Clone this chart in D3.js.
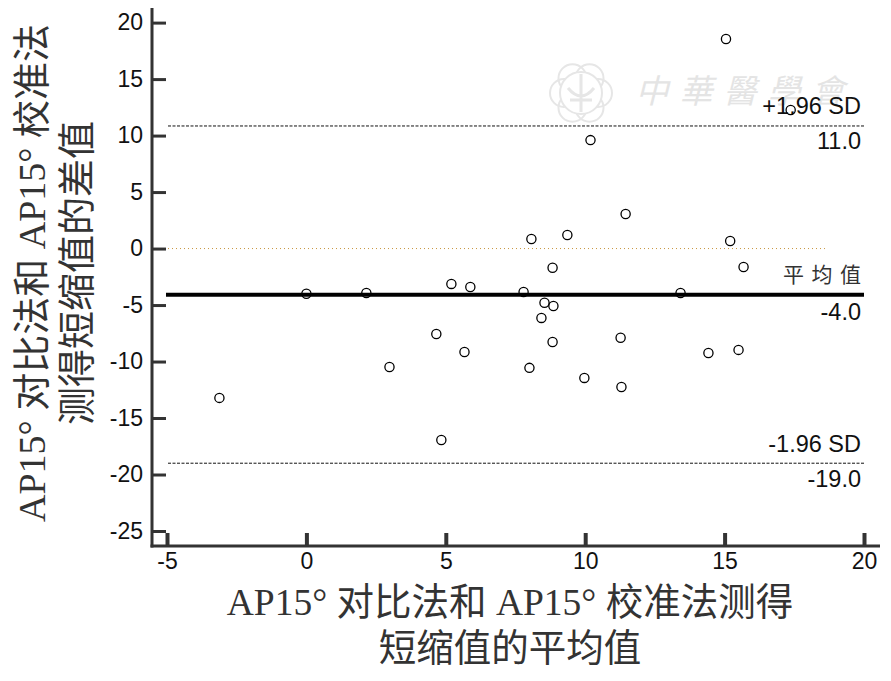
<!DOCTYPE html>
<html>
<head>
<meta charset="utf-8">
<script src="https://cdnjs.cloudflare.com/ajax/libs/d3/7.8.5/d3.min.js"></script>
<style>
  html, body { margin: 0; padding: 0; background: #fff; }
  text { font-family: "Liberation Sans", Arial, sans-serif; }
  .title { font-family: "Liberation Serif", "Noto Sans CJK SC", serif; fill: #333; text-anchor: middle; }
</style>
</head>
<body>
<div id="chart"></div>
<script>
var svgWidth = 891;
var svgHeight = 681;

// values
var xTicks = [-5, 0, 5, 10, 15, 20];
var yTicks = [20, 15, 10, 5, 0, -5, -10, -15, -20, -25];
var pointX = [15.05, 17.37, 10.19, 11.45, 8.07, 9.36, 15.2, 15.68, 8.83, 5.2, 5.88, 7.79, 13.42, 0, 2.15,
  8.54, 8.86, 8.43, 4.66, 11.27, 8.83, 5.67, 14.42, 15.5, 2.98, 8.0, 9.97, 11.3, -3.12, 4.84];
var pointY = [18.55, 12.27, 9.6, 3.06, 0.85, 1.2, 0.67, -1.63, -1.7, -3.13, -3.4, -3.84, -3.93, -4.0, -3.93,
  -4.8, -5.08, -6.14, -7.56, -7.9, -8.27, -9.15, -9.24, -8.97, -10.48, -10.56, -11.45, -12.25, -13.22, -16.94];
var upperLimit = 10.85;
var meanValue = -4.08;
var lowerLimit = -19.0;
var zeroEnd = 18.6;
var xLabels = ["AP15° 对比法和 AP15° 校准法测得", "短缩值的平均值"];
var yLabels = ["AP15° 对比法和 AP15° 校准法", "测得短缩值的差值"];
var watermark = ["中", "華", "醫", "學", "會"];
var petals = [0, 60, 120, 180, 240, 300];

var svg = d3.select("#chart")
  .append("svg")
  .attr("width", svgWidth)
  .attr("height", svgHeight)
  .style("display", "block");

var xScale = d3.scaleLinear().domain([-5, 20]).range([167, 864]);
var yScale = d3.scaleLinear().domain([20, -25]).range([22.6, 531]);

// faint watermark behind the plot
var mark = svg.append("g").attr("fill", "none").attr("stroke", "#e6e6e6");
mark.selectAll(".petal")
  .data(petals)
  .enter()
  .append("circle")
  .attr("cx", d => 581 + 17 * Math.cos(d * Math.PI / 180))
  .attr("cy", d => 93 + 17 * Math.sin(d * Math.PI / 180))
  .attr("r", 14)
  .attr("stroke-width", 2);
mark.append("circle").attr("cx", 581).attr("cy", 93).attr("r", 21).attr("fill", "#fff").attr("stroke-width", 2);
mark.append("path").attr("d", "M581 74V112M568 88Q581 104 594 88M570 100L592 100").attr("stroke-width", 3);
svg.append("g").selectAll("text")
  .data(watermark)
  .enter()
  .append("text")
  .attr("x", (d, i) => 652 + i * 44)
  .attr("y", 103)
  .attr("text-anchor", "middle")
  .attr("fill", "#e4e4e4")
  .style("font-family", "'Noto Sans CJK SC'")
  .style("font-size", "33px")
  .style("font-style", "italic")
  .text(d => d);

// line annotations
function note(label, y) {
  svg.append("text")
    .attr("x", 861)
    .attr("y", y)
    .attr("text-anchor", "end")
    .attr("fill", "#111")
    .style("font-size", "23.5px")
    .text(label);
}
note("+1.96 SD", 114);
note("11.0", 149);
note("-4.0", 320);
note("-1.96 SD", 452);
note("-19.0", 487);
svg.append("text")
  .attr("x", 861)
  .attr("y", 282)
  .attr("text-anchor", "end")
  .attr("fill", "#333")
  .attr("textLength", 78)
  .style("font-family", "'Noto Sans CJK SC'")
  .style("font-size", "21px")
  .text("平均值");

// reference lines
function refLine(value, x1, dash, color, width) {
  svg.append("line")
    .attr("x1", x1)
    .attr("x2", xScale(20))
    .attr("y1", yScale(value))
    .attr("y2", yScale(value))
    .attr("stroke", color)
    .attr("stroke-width", width)
    .attr("stroke-dasharray", dash);
}
refLine(upperLimit, 168, "3,1.5", "#111", 1);
refLine(lowerLimit, 168, "3,1.5", "#111", 1);
refLine(meanValue, 166, null, "#000", 4);

svg.append("line")
  .attr("x1", 168)
  .attr("x2", xScale(zeroEnd))
  .attr("y1", yScale(0))
  .attr("y2", yScale(0))
  .attr("stroke", "#c8963c")
  .attr("stroke-width", 1)
  .attr("stroke-dasharray", "1,3");

// points
svg.append("g").selectAll("circle")
  .data(pointX)
  .enter()
  .append("circle")
  .attr("cx", d => xScale(d))
  .attr("cy", (d, i) => yScale(pointY[i]))
  .attr("r", 4.6)
  .attr("fill", "none")
  .attr("stroke", "#000")
  .attr("stroke-width", 1.3);

// axes, ticks point inward
var axisColor = "#333";
var bottomAxis = d3.axisBottom(xScale).tickValues(xTicks).tickFormat(d => String(d)).tickSize(0).tickPadding(7);
var leftAxis = d3.axisLeft(yScale).tickValues(yTicks).tickFormat(d => String(d)).tickSize(0).tickPadding(9);

var xAxisG = svg.append("g").attr("transform", "translate(0, 546)").call(bottomAxis);
var yAxisG = svg.append("g").attr("transform", "translate(152, 0)").call(leftAxis);

xAxisG.select(".domain").remove();
yAxisG.select(".domain").remove();
xAxisG.selectAll(".tick line")
  .attr("y1", 0).attr("y2", -13)
  .attr("stroke", axisColor).attr("stroke-width", 4);
yAxisG.selectAll(".tick line")
  .attr("x1", 0).attr("x2", 14)
  .attr("stroke", axisColor).attr("stroke-width", 3);
svg.selectAll(".tick text")
  .attr("fill", "#111")
  .style("font-family", "'Liberation Sans', Arial, sans-serif")
  .style("font-size", "23px");

svg.append("line").attr("x1", 152).attr("x2", 152).attr("y1", 8).attr("y2", 547.5)
  .attr("stroke", axisColor).attr("stroke-width", 3);
svg.append("line").attr("x1", 150.5).attr("x2", 880).attr("y1", 546).attr("y2", 546)
  .attr("stroke", axisColor).attr("stroke-width", 3);

// axis titles
svg.selectAll(".xtitle")
  .data(xLabels)
  .enter()
  .append("text")
  .attr("class", "title")
  .attr("x", 510)
  .attr("y", (d, i) => 615 + i * 46)
  .style("font-size", "37.5px")
  .text(d => d);

svg.selectAll(".ytitle")
  .data(yLabels)
  .enter()
  .append("text")
  .attr("class", "title")
  .attr("transform", (d, i) => `translate(${45 + i * 45}, 273) rotate(-90)`)
  .style("font-size", "38px")
  .text(d => d);
</script>
</body>
</html>
